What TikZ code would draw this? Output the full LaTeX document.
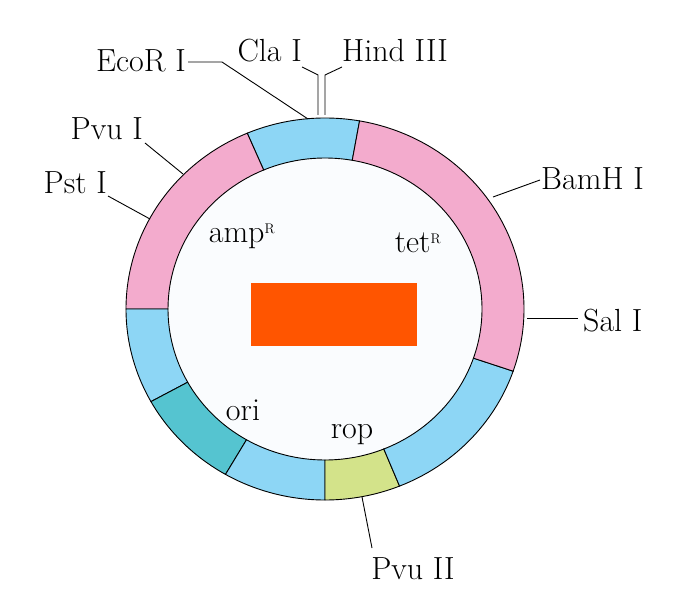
\documentclass[tikz,border=0pt]{standalone}
\usetikzlibrary{calc}
\definecolor{pk}{HTML}{F3ABCD}
\definecolor{bl}{HTML}{8DD6F5}
\definecolor{tl}{HTML}{55C4D0}
\definecolor{gr}{HTML}{D3E38A}
\definecolor{orr}{HTML}{FF5500}
\definecolor{inn}{HTML}{FAFCFE}
\newcommand{\seg}[3]{\filldraw[fill=#3,draw=black,line width=0.9pt]
 ({325+199*cos(#1)},{289+191*sin(#1)}) arc[start angle=#1,end angle=#2,x radius=199,y radius=191]
 -- ({325+157*cos(#2)},{289+151*sin(#2)}) arc[start angle=#2,end angle=#1,x radius=157,y radius=151] -- cycle;}
\begin{document}
\begin{tikzpicture}[x=1pt,y=1pt,
 lbl/.style={font=\fontsize{32}{36}\selectfont,inner sep=0pt},
 ld/.style={line width=0.9pt}]
\useasboundingbox (0,0) rectangle (691,598);
\fill[inn] (325,289) ellipse[x radius=157,y radius=151];
\seg{80}{113}{bl}
\seg{113}{180}{pk}
\seg{180}{209}{bl}
\seg{209}{240}{tl}
\seg{240}{270}{bl}
\seg{270}{292}{gr}
\seg{292}{341}{bl}
\seg{341}{440}{pk}
\fill[orr] (251,252) rectangle (417,315);
\node[lbl,anchor=east] (eco) at (186,537) {EcoR I};
\node[lbl,anchor=east] (cla) at (302,547) {Cla I};
\node[lbl,anchor=west] (hind) at (342,547) {Hind III};
\node[lbl,anchor=east] (pvu) at (143,469) {Pvu I};
\node[lbl,anchor=east] (pst) at (107,415) {Pst I};
\node[lbl,anchor=west] (bam) at (541,419) {BamH I};
\node[lbl,anchor=west] (sal) at (583,277) {Sal I};
\node[lbl] (pvu2) at (413,29) {Pvu II};
\node[lbl] (amp) at (242,362) {amp\textsuperscript{\fontsize{14}{14}\selectfont R}};
\node[lbl] (tet) at (418,355) {tet\textsuperscript{\fontsize{14}{14}\selectfont R}};
\node[lbl] (ori) at (243,188) {ori};
\node[lbl] (rop) at (352,163) {rop};
\coordinate (e1) at (188,536); \coordinate (e2) at (222,536); \coordinate (e3) at (308,479);
\draw[ld] (e1) -- (e2) -- (e3);
\draw[ld] (302,531) -- (318,523) -- (318,483);
\draw[ld] (342,531) -- (325,523) -- (325,483);
\draw[ld] (145,455) -- (183,424);
\draw[ld] (108,402) -- (150,379);
\draw[ld] (540,418) -- (493,401);
\draw[ld] (578,280) -- (527,280);
\draw[ld] (372,50) -- (362,101);
\end{tikzpicture}
\end{document}
